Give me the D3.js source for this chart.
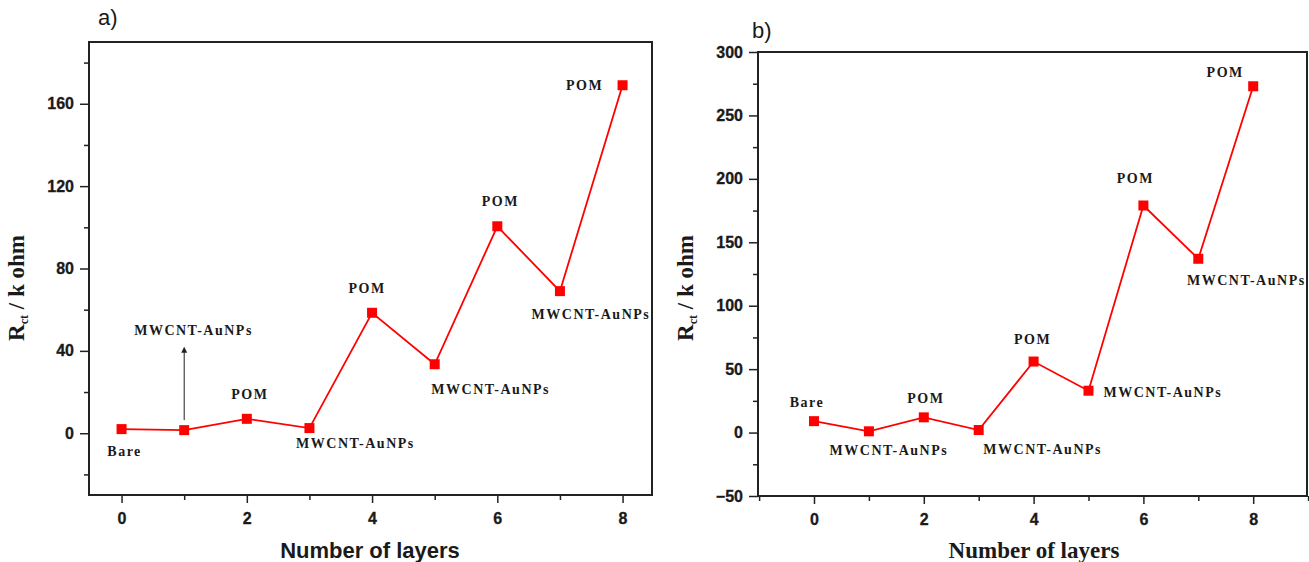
<!DOCTYPE html>
<html><head><meta charset="utf-8">
<script src="https://cdn.jsdelivr.net/npm/d3@7"></script>
<style>
body{margin:0;background:#fff;}
svg text{fill:#1a1a1a;}
</style></head>
<body><svg id="c" width="1309" height="562"></svg>
<script>
// ---- data ----
const layers = [0,1,2,3,4,5,6,7,8];
const rctA = [2, 1.5, 7, 2.5, 58.5, 33.5, 100.5, 69, 169];
const rctB = [9, 1, 12, 2, 56, 33, 179, 137, 273];
const labelsA = ["Bare","MWCNT-AuNPs","POM","MWCNT-AuNPs","POM","MWCNT-AuNPs","POM","MWCNT-AuNPs","POM"];
const labelsB = ["Bare","MWCNT-AuNPs","POM","MWCNT-AuNPs","POM","MWCNT-AuNPs","POM","MWCNT-AuNPs","POM"];
const xTicksA = [0,2,4,6,8];
const yTicksA = [0,40,80,120,160];
const xTicksB = [0,2,4,6,8];
const yTicksB = [-50,0,50,100,150,200,250,300];

const svg = d3.select("#c");
const tickFont = "'Liberation Sans',Arial,sans-serif";
const serif = "'Liberation Serif','Times New Roman',serif";

function panel(o){
  const g = svg.append("g");
  const x = d3.scaleLinear().domain(o.xd).range([o.l,o.r]);
  const y = d3.scaleLinear().domain(o.yd).range([o.b,o.t]);
  g.append("rect").attr("x",o.l).attr("y",o.t).attr("width",o.r-o.l).attr("height",o.b-o.t)
    .attr("fill","none").attr("stroke","#222").attr("stroke-width",2);
  const xa = g.append("g").attr("transform",`translate(0,${o.b})`)
    .call(d3.axisBottom(x).tickValues(o.xMinor).tickSize(5).tickFormat(""));
  const xb = g.append("g").attr("transform",`translate(0,${o.b})`)
    .call(d3.axisBottom(x).tickValues(o.xt).tickSize(8).tickPadding(10).tickFormat(d3.format("d")));
  const ya = g.append("g").attr("transform",`translate(${o.l},0)`)
    .call(d3.axisLeft(y).tickValues(o.yMinor).tickSize(5).tickFormat(""));
  const yb = g.append("g").attr("transform",`translate(${o.l},0)`)
    .call(d3.axisLeft(y).tickValues(o.yt).tickSize(9).tickPadding(6).tickFormat(d3.format("d")));
  [xa,xb,ya,yb].forEach(a=>{
    a.select(".domain").remove();
    a.selectAll("line").attr("stroke","#222").attr("stroke-width",1.5);
    a.selectAll("text").attr("font-family",tickFont).attr("font-weight","bold").attr("font-size",16)
      .attr("fill","#1a1a1a").attr("stroke","#1a1a1a").attr("stroke-width",0.3);
  });
  const pts = layers.map((d,i)=>[d,o.vals[i]]);
  g.append("path").datum(pts).attr("fill","none").attr("stroke","#f00").attr("stroke-width",1.8)
    .attr("d",d3.line().x(d=>x(d[0])).y(d=>y(d[1])));
  g.selectAll("rect.m").data(pts).enter().append("rect").attr("class","m")
    .attr("x",d=>x(d[0])-5).attr("y",d=>y(d[1])-5).attr("width",10).attr("height",10).attr("fill","#f00");
  o.lab.forEach((t,i)=>{
    const p = o.pos[i];
    g.append("text").attr("x",x(layers[i])+p[0]).attr("y",y(o.vals[i])+p[1])
      .attr("text-anchor",p[2]||"middle").attr("font-family",serif).attr("font-weight","bold")
      .attr("font-size",14).attr("letter-spacing","1.5px").text(t);
  });
  g.append("text").attr("transform",`translate(${o.yl[0]},${o.yl[1]}) rotate(-90)`).attr("text-anchor","middle")
    .attr("font-family",serif).attr("font-weight","bold").attr("font-size",23)
    .html('R<tspan font-size="12" dy="4">ct</tspan><tspan dy="-4"> / k ohm</tspan>');
  g.append("text").attr("x",o.xl[0]).attr("y",o.xl[1]).attr("text-anchor","middle")
    .attr("font-family",o.xlFont).attr("font-weight","bold").attr("font-size",o.xlSize).text("Number of layers");
  g.append("text").attr("x",o.tag[0]).attr("y",o.tag[1]).attr("font-family","'Liberation Sans',Arial,sans-serif")
    .attr("font-size",22).text(o.tagText);
  return {x,y,g};
}

const A = panel({
  l:89, r:652, t:42, b:495, xd:[-0.52,8.47], yd:[-30,190],
  xt:xTicksA, xMinor:[1,3,5,7], yt:yTicksA, yMinor:[-20,20,60,100,140,180],
  vals:rctA, lab:labelsA,
  pos:[[3,27],[-50,-95,"start"],[3,-20],[46,20],[-5,-20],[56,30],[3,-20],[31,28],[-38,5]],
  yl:[24,288], xl:[370,558], xlFont:"'Liberation Sans',Arial,sans-serif", xlSize:22, tag:[98,25], tagText:"a)"
});
const ax = A.x(1), ay1 = A.y(rctA[1]) - 10, ay2 = A.y(42);
A.g.append("line").attr("x1",ax).attr("x2",ax).attr("y1",ay1).attr("y2",ay2+5).attr("stroke","#222").attr("stroke-width",1);
A.g.append("path").attr("d",`M${ax-3},${ay2+6}L${ax},${ay2}L${ax+3},${ay2+6}Z`).attr("fill","#222");

const B = panel({
  l:758, r:1307, t:52, b:496, xd:[-1.02,8.98], yd:[-50,300],
  xt:xTicksB, xMinor:[-1,1,3,5,7,9], yt:yTicksB, yMinor:[-25,25,75,125,175,225,275],
  vals:rctB, lab:labelsB,
  pos:[[-7,-14],[20,24],[2,-14],[64,24],[-1,-18],[15,6,"start"],[-8,-22],[48,26],[-28,-9]],
  yl:[693,288], xl:[1034,558], xlFont:serif, xlSize:23, tag:[752,38], tagText:"b)"
});
</script></body></html>
